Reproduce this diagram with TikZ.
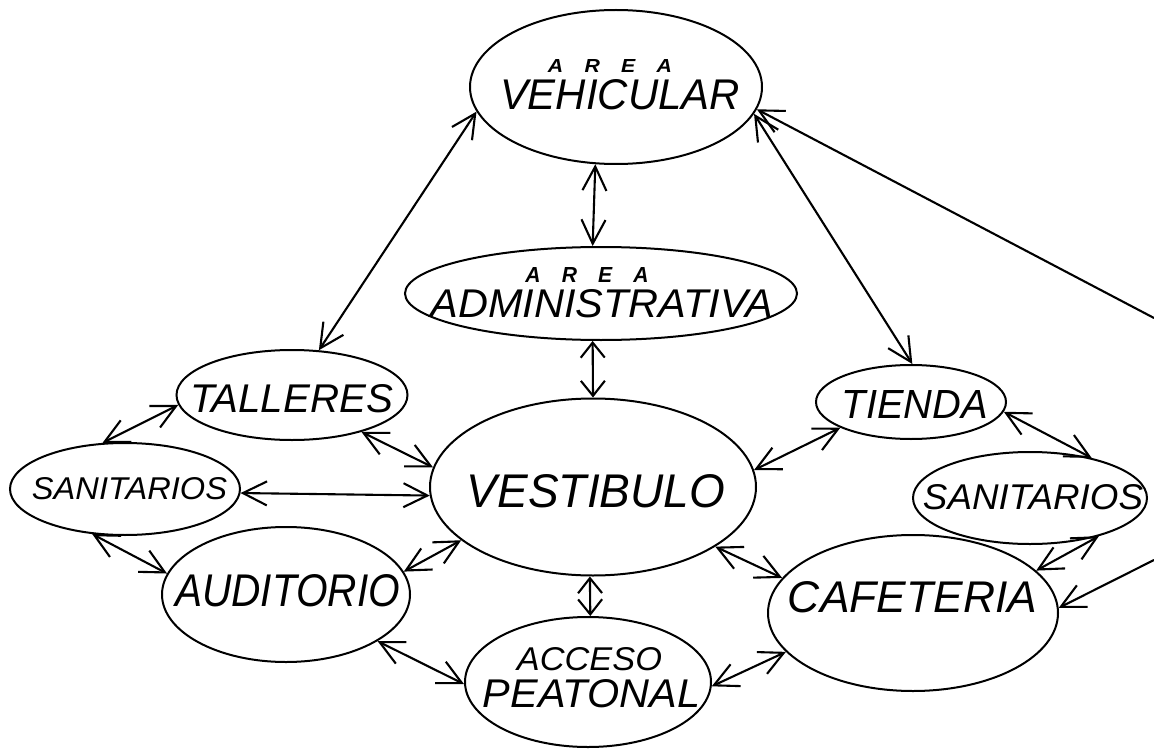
\documentclass[tikz,border=0pt]{standalone}
\usepackage{fontspec}
\setmainfont{Liberation Sans}
\usepackage{graphicx}
\usetikzlibrary{shapes.geometric,arrows.meta}
\newcommand{\mylbl}[3]{\resizebox{#1pt}{#2pt}{\itshape #3}}
\newcommand{\myarea}[2]{\resizebox{#1pt}{#2pt}{\bfseries\itshape A\hspace{1.0em}R\hspace{1.0em}E\hspace{1.0em}A}}
\tikzset{barb/.tip={Straight Barb[length=24pt,width=24pt,line width=2.1pt]},
  sbarb/.tip={Straight Barb[length=15pt,width=24pt,line width=2.1pt]}}
\begin{document}
\begin{tikzpicture}[x=1pt,y=-1pt,
  oval/.style={draw, ellipse, line width=2pt, inner sep=0pt},
  txt/.style={inner sep=0pt, anchor=center},
  conn/.style={line width=2.1pt, barb-barb},
  sconn/.style={line width=2.1pt, sbarb-sbarb},
  conntip/.style={line width=2.1pt, -barb}]
\fill[white] (0,0) rectangle (1154,749);
\useasboundingbox (0,0) rectangle (1154,749);

% ellipses
\node[oval, minimum width=292pt, minimum height=154pt] (veh) at (616,87) {};
\node[oval, minimum width=392pt, minimum height=93pt] (adm) at (601,293.5) {};
\node[oval, minimum width=231pt, minimum height=90pt] (tal) at (292,395) {};
\node[oval, minimum width=230pt, minimum height=92pt] (sanl) at (125,489) {};
\node[oval, minimum width=248pt, minimum height=135pt] (aud) at (286,594.5) {};
\node[oval, minimum width=326pt, minimum height=177pt] (vest) at (593,487) {};
\node[oval, minimum width=246pt, minimum height=130pt] (acc) at (588,682) {};
\node[oval, minimum width=190pt, minimum height=74pt] (tie) at (911,402) {};
\node[oval, minimum width=234pt, minimum height=92pt] (sanr) at (1030,498) {};
\node[oval, minimum width=290pt, minimum height=156pt] (caf) at (913,613) {};

% labels
\node[txt] (vehA) at (610,66) {\myarea{124}{13}};
\node[txt] (vehT) at (620,95) {\mylbl{240}{30}{VEHICULAR}};
\node[txt] (admA) at (587,274.5) {\myarea{123}{15}};
\node[txt] (admT) at (602,304) {\mylbl{343}{28}{ADMINISTRATIVA}};
\node[txt] (talT) at (291.5,399) {\mylbl{203}{28}{TALLERES}};
\node[txt] (sanlT) at (129.5,489) {\mylbl{195}{22}{SANITARIOS}};
\node[txt] (audT) at (287.5,591) {\mylbl{225}{32}{AUDITORIO}};
\node[txt] (vestT) at (596,491.5) {\mylbl{258}{33}{VESTIBULO}};
\node[txt] (tieT) at (915,404) {\mylbl{146}{28}{TIENDA}};
\node[txt] (sanrT) at (1033,497.5) {\mylbl{220}{25}{SANITARIOS}};
\node[txt] (cafT) at (912.5,597.5) {\mylbl{249}{31}{CAFETERIA}};
\node[txt] (accA) at (589.5,659) {\mylbl{145}{23}{ACCESO}};
\node[txt] (accT) at (591.5,693.5) {\mylbl{217}{28}{PEATONAL}};

% off-page ends
\coordinate (r1) at (1154,318);
\coordinate (r2) at (1154,560);

% connectors
\draw[conn] (veh.255) -- (adm.100);
\draw[sconn] (adm.260) -- (vest.90);
\draw[conn] (veh.190) -- (tal.59);
\draw[conn] (veh.349) -- (tie.88);
\draw[conntip] (r1) -- (veh.351);
\draw[conntip] (r2) -- (caf.2);
\draw[conn] (tal.185) -- (sanl.116);
\draw[conn] (tal.332) -- (vest.173);
\draw[conn] (sanl.358) -- (vest.183);
\draw[conn] (sanl.234) -- (aud.170);
\draw[conn] (vest.202) -- (aud.11);
\draw[sconn] (vest.268) -- (acc.88);
\draw[conn] (aud.333) -- (acc.181);
\draw[conn] (acc.358) -- (caf.197);
\draw[conn] (vest.334) -- (caf.165);
\draw[conn] (vest.6) -- (tie.200);
\draw[conn] (tie.354) -- (sanr.33);
\draw[conn] (sanr.331) -- (caf.19);
\end{tikzpicture}
\end{document}
